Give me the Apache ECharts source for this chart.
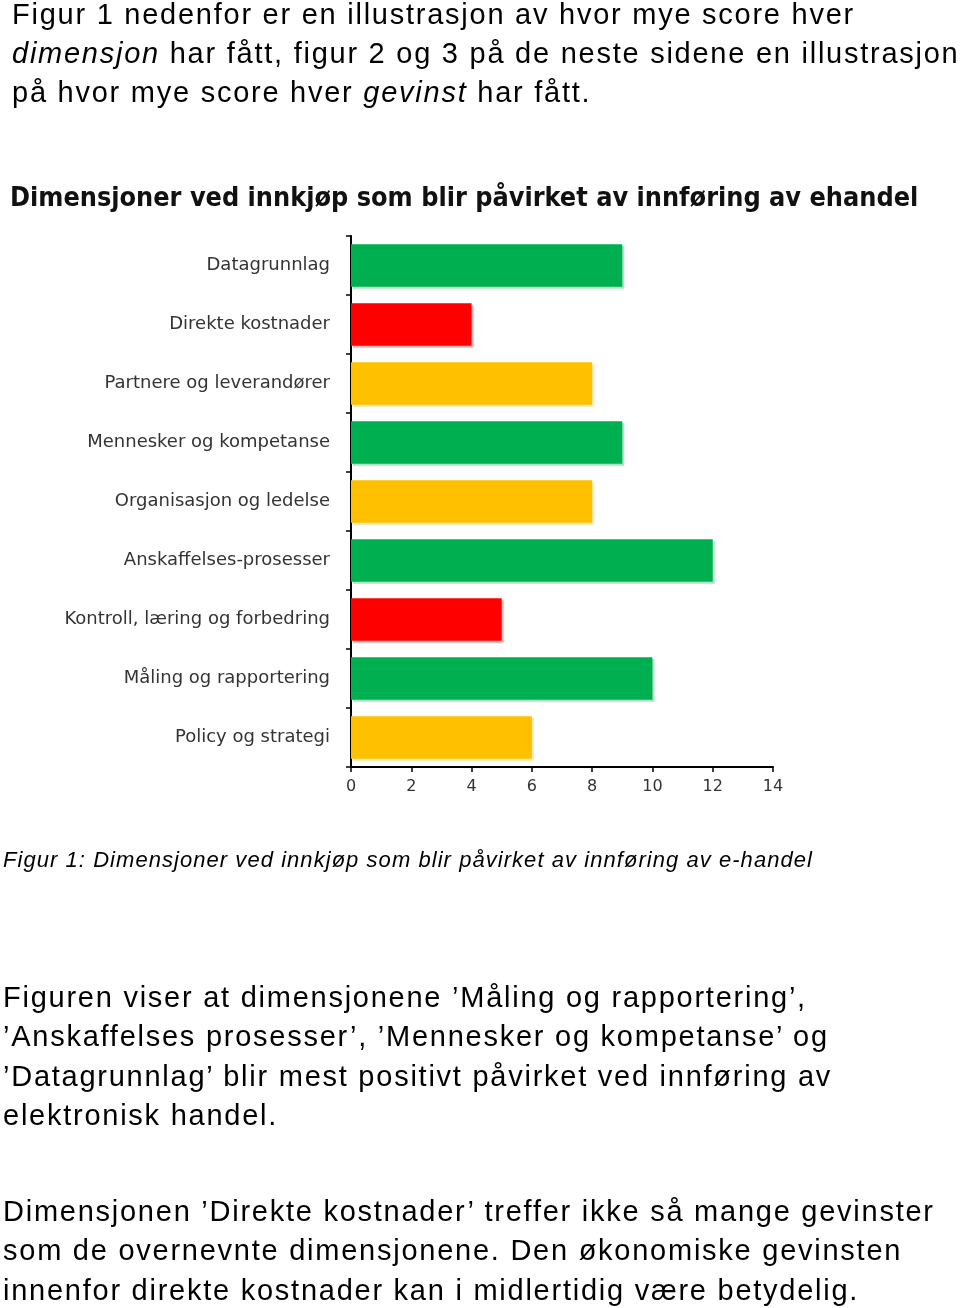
<!DOCTYPE html>
<html>
<head>
<meta charset="utf-8">
<script src="https://cdn.jsdelivr.net/npm/echarts@6/dist/echarts.min.js"></script>
<style>
html,body{margin:0;padding:0;background:#fff;}
#wrap{position:relative;width:960px;height:1308px;overflow:hidden;}
#chart{position:absolute;left:0;top:0;width:960px;height:1308px;}
.para{position:absolute;font-family:"Liberation Sans",Arial,sans-serif;font-size:29px;line-height:39.3px;letter-spacing:1.75px;color:#000;white-space:pre;margin:0;}
.cap{position:absolute;font-family:"Liberation Sans",Arial,sans-serif;font-size:22px;line-height:22px;letter-spacing:1.05px;font-style:italic;color:#000;white-space:pre;margin:0;}
</style>
</head>
<body>
<div id="wrap">
<div id="chart"></div>
<div class="para" id="p1" style="left:12px;top:-5px;line-height:39px;"></div>
<div class="cap" id="cap" style="left:3px;top:849px;"></div>
<div class="para" id="p2" style="left:3px;top:978px;"></div>
<div class="para" id="p3" style="left:3px;top:1192px;"></div>
</div>
<script>
const categories = ['Datagrunnlag','Direkte kostnader','Partnere og leverandører','Mennesker og kompetanse','Organisasjon og ledelse','Anskaffelses-prosesser','Kontroll, læring og forbedring','Måling og rapportering','Policy og strategi'];
const scores = [9, 4, 8, 9, 8, 12, 5, 10, 6];
const levels = ['high','low','mid','high','mid','high','low','high','mid'];
const xTicks = [0,2,4,6,8,10,12,14];

const chartTitle = 'Dimensjoner ved innkjøp som blir påvirket av innføring av ehandel';
const caption = 'Figur 1: Dimensjoner ved innkjøp som blir påvirket av innføring av e-handel';
const introLines = [
  'Figur 1 nedenfor er en illustrasjon av hvor mye score hver',
  '<i>dimensjon</i> har fått, figur 2 og 3 på de neste sidene en illustrasjon',
  'på hvor mye score hver <i>gevinst</i> har fått.'
];
const para2Lines = [
  'Figuren viser at dimensjonene ’Måling og rapportering’,',
  '’Anskaffelses prosesser’, ’Mennesker og kompetanse’ og',
  '’Datagrunnlag’ blir mest positivt påvirket ved innføring av',
  'elektronisk handel.'
];
const para3Lines = [
  'Dimensjonen ’Direkte kostnader’ treffer ikke så mange gevinster',
  'som de overnevnte dimensjonene. Den økonomiske gevinsten',
  'innenfor direkte kostnader kan i midlertidig være betydelig.'
];

document.getElementById('p1').innerHTML = introLines.join('\n');
document.getElementById('p2').textContent = para2Lines.join('\n');
document.getElementById('p3').textContent = para3Lines.join('\n');
document.getElementById('cap').textContent = caption;

const levelColor = {high:'#00b050', low:'#ff0000', mid:'#ffc000'};
const levelShadow = {high:'#a8e6c4', low:'#ffb0b0', mid:'#ffe9a8'};

const chart = echarts.init(document.getElementById('chart'), null, {renderer:'canvas'});

const option = {
  backgroundColor: 'transparent',
  animation: false,
  title: {
    text: chartTitle,
    left: 5, top: 181,
    textStyle: {fontFamily: '"DejaVu Sans Condensed", "DejaVu Sans", sans-serif', fontWeight: 'bold', fontSize: 26.8, color: '#111'}
  },
  grid: {left: 351, right: 187, top: 236, bottom: 541, containLabel: false},
  xAxis: {
    type: 'value', min: 0, max: 14, interval: 2,
    axisLine: {show: true, lineStyle: {color: '#000', width: 2}},
    axisTick: {show: true, length: 5, lineStyle: {color: '#000', width: 1.5}},
    splitLine: {show: false},
    axisLabel: {color: '#333', fontFamily: '"DejaVu Sans", sans-serif', fontSize: 16, margin: 12,
      formatter: v => xTicks.includes(v) ? String(v) : ''}
  },
  yAxis: {
    type: 'category', data: categories, inverse: true,
    axisLine: {show: true, lineStyle: {color: '#000', width: 2}},
    axisTick: {show: true, length: 5, lineStyle: {color: '#000', width: 1.5}},
    axisLabel: {color: '#333', fontFamily: '"DejaVu Sans", sans-serif', fontSize: 18, margin: 21}
  },
  series: [{
    type: 'bar',
    barCategoryGap: '28%',
    data: scores.map((v, i) => ({
      value: v,
      itemStyle: {
        color: levelColor[levels[i]],
        shadowColor: levelShadow[levels[i]],
        shadowOffsetX: 2, shadowOffsetY: 2, shadowBlur: 0
      }
    }))
  }]
};
chart.setOption(option);
</script>
</body>
</html>
